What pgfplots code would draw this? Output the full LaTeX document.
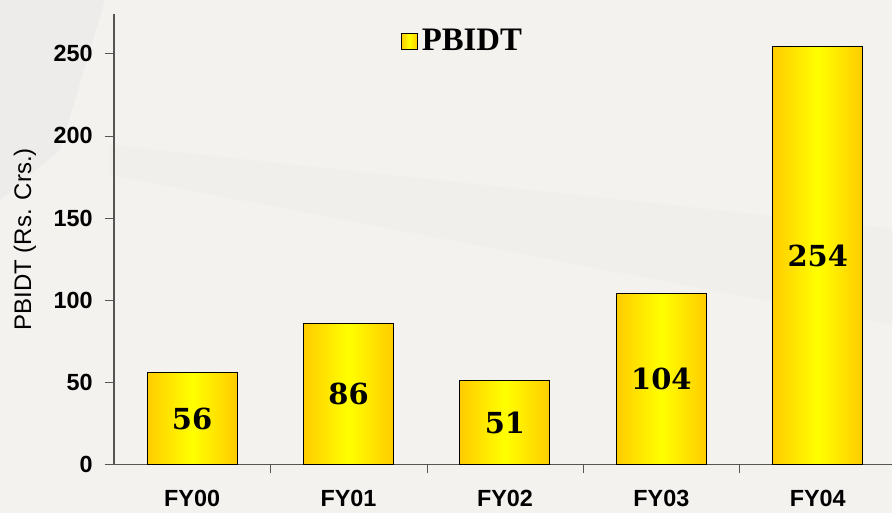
\documentclass[border=0pt]{standalone}
\usepackage{pgfplots}
\usepackage{pgfplotstable}
\pgfplotsset{compat=1.18}
\usepackage{fontspec}
\setmainfont{Liberation Sans}
\newfontfamily\valfont{DejaVu Serif}
\newfontfamily\legfont{Liberation Serif}
\definecolor{bg}{HTML}{F4F2EF}
\definecolor{bgdark}{HTML}{EEECEA}
\definecolor{gold}{HTML}{FFCC00}
\definecolor{lemon}{HTML}{FFFF00}
\definecolor{axisgray}{HTML}{555555}

\pgfplotstableread{
x y
0 56
1 86
2 51
3 104
4 254
}\pbidt

\begin{document}
\begin{tikzpicture}
% slide background
\fill[bg] (-57pt,-24pt) rectangle (389.5pt,232.5pt);
\fill[bgdark] (-57pt,232.5pt) -- (-4.5pt,232.5pt) -- (-27pt,157.5pt) -- (-57pt,132.5pt) -- cycle;
\fill[bgdark!50!bg] (-2pt,160pt) -- (389.5pt,118pt) -- (389.5pt,70pt) -- (-2pt,145pt) -- cycle;
\begin{axis}[
  scale only axis, width=389.5pt, height=225.5pt,
  xmin=-0.5, xmax=4.477, ymin=0, ymax=274,
  axis lines*=left,
  axis line style={draw=axisgray, line width=0.6pt},
  xtick={0,...,4}, xticklabels={FY00,FY01,FY02,FY03,FY04},
  minor xtick={0.5,1.5,2.5,3.5},
  major x tick style={draw=none},
  minor x tick style={draw=axisgray},
  minor tick length=4pt,
  ytick={0,50,...,250},
  y tick style={draw=axisgray},
  major tick length=4.5pt,
  tick align=outside,
  tick label style={font=\bfseries\fontsize{11.7}{14}\selectfont},
  /pgf/number format/assume math mode=true,
  yticklabel style={xshift=-2.6pt},
  xticklabel style={yshift=-4.5pt},
  ylabel={PBIDT (Rs. Crs.)},
  every axis y label/.style={at={([xshift=-44.5pt]axis description cs:0,0.5)}, rotate=90, anchor=center, font=\fontsize{12}{14}\selectfont},
  legend style={at={(0.449,0.94)}, anchor=center, draw=none, fill=none, font=\legfont\bfseries\fontsize{16.4}{18}\selectfont},
  legend image code/.code={\draw[draw=black, line width=0.4pt, left color=gold, right color=gold, middle color=lemon] (0pt,-4pt) rectangle (8pt,4pt);},
  barstyle/.style={ybar, bar width=45pt, bar shift=0pt, draw=black, line width=0.5pt, left color=gold, right color=gold, middle color=lemon},
]
% one plot per bar so each bar gets its own shading
\pgfplotsinvokeforeach{0,...,4}{
  \addplot[barstyle] table[x=x, y=y, restrict x to domain=#1:#1]{\pbidt};
}
\legend{PBIDT}
% value labels centred in the bars
\addplot[draw=none, mark=none, forget plot, nodes near coords, point meta=explicit,
  nodes near coords style={anchor=center, font=\valfont\bfseries\fontsize{14.5}{16}\selectfont}]
  table[x=x, y expr=\thisrow{y}/2, meta=y]{\pbidt};
\end{axis}
\end{tikzpicture}
\end{document}
